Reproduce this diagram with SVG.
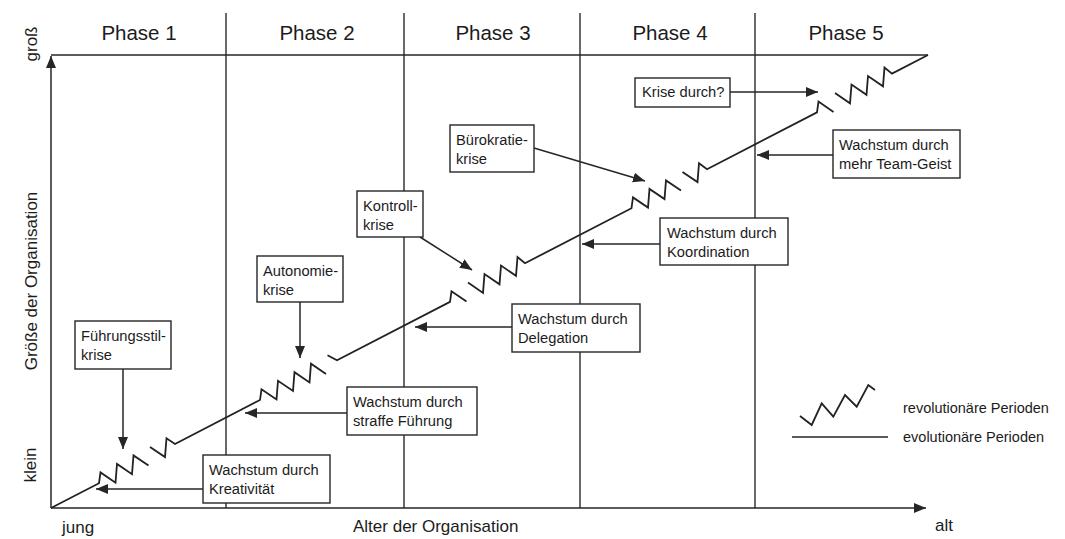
<svg xmlns="http://www.w3.org/2000/svg" width="1065" height="539" viewBox="0 0 1065 539">
<style>
.ln{stroke:#262626;fill:none;stroke-width:1.5}
.div{stroke:#2a2a2a;fill:none;stroke-width:1.4}
.gr{stroke:#222;fill:none;stroke-width:1.8;stroke-linejoin:miter}
.box{fill:#fff;stroke:#262626;stroke-width:1.4}
.t{font-family:"Liberation Sans",Arial,sans-serif;font-size:14.7px;fill:#1c1c1c}
.ph{font-family:"Liberation Sans",Arial,sans-serif;font-size:20.5px;fill:#1c1c1c;text-anchor:middle}
.ax{font-family:"Liberation Sans",Arial,sans-serif;font-size:17px;fill:#1c1c1c}
.lg{font-family:"Liberation Sans",Arial,sans-serif;font-size:14.5px;fill:#1c1c1c}
.ar{stroke:#262626;stroke-width:1.5;fill:none;marker-end:url(#ah)}
</style>
<defs>
<marker id="ah" markerUnits="userSpaceOnUse" markerWidth="13" markerHeight="11" refX="12" refY="5" orient="auto">
<path d="M0,0 L12,5 L0,10 z" fill="#262626"/>
</marker>
</defs>
<rect width="1065" height="539" fill="#fff"/>

<g id="frame">
<line class="div" x1="226" y1="13" x2="226" y2="508"/>
<line class="div" x1="404" y1="13" x2="404" y2="508"/>
<line class="div" x1="580" y1="13" x2="580" y2="508"/>
<line class="div" x1="755" y1="13" x2="755" y2="508"/>
<line class="ln" x1="51" y1="55" x2="928" y2="55"/>
<line class="ln" x1="51" y1="508" x2="51" y2="56" marker-end="url(#ah)"/>
<line class="ln" x1="51" y1="508" x2="926" y2="508" marker-end="url(#ah)"/>
</g>

<g id="phases">
<text class="ph" x="139" y="40">Phase 1</text>
<text class="ph" x="317" y="40">Phase 2</text>
<text class="ph" x="493" y="40">Phase 3</text>
<text class="ph" x="670" y="40">Phase 4</text>
<text class="ph" x="846" y="40">Phase 5</text>
</g>

<g id="axis-labels">
<text class="ax" text-anchor="middle" transform="translate(37,44) rotate(-90)">groß</text>
<text class="ax" text-anchor="middle" transform="translate(37,281) rotate(-90)">Größe der Organisation</text>
<text class="ax" text-anchor="middle" transform="translate(36,465) rotate(-90)">klein</text>
<text class="ax" x="62" y="533">jung</text>
<text class="ax" x="353" y="532">Alter der Organisation</text>
<text class="ax" x="935" y="531">alt</text>
</g>

<g id="growth-curve">
<path class="gr" d="M51,508 L99,483.2 L100.5,472.4 L115.5,482.7 L117,463.9 L132,474.2 L133.5,455.4 L148.5,465.6"/>
<path class="gr" d="M150,446.9 L165,457.1 L166.5,438.3 L175,444 L260,400 L261.5,389.3 L276.5,399.5 L278,380.8 L293,391 L294.5,372.2 L309.5,382.5 L311,363.7 L326,374"/>
<path class="gr" d="M327.5,355.2 L337,360.3 L450,301.9 L451.5,291.2 L466.5,301.4"/>
<path class="gr" d="M468,282.6 L483,292.9 L484.5,274.1 L499.5,284.3 L501,265.6 L516,275.8 L517.5,257.1 L525,263.2 L631.5,208.2 L633,197.4 L648,207.6 L649.5,188.9 L664.5,199.1 L666,180.4 L681,190.6"/>
<path class="gr" d="M682.5,171.9 L697.5,182.1 L699,163.3 L707,169.2 L817,112.4 L818.5,101.6 L833.5,111.9"/>
<path class="gr" d="M835,93.1 L850,103.3 L851.5,84.6 L866.5,94.8 L868,76 L883,86.3 L884.5,67.5 L892,73.6 L928,55"/>
</g>

<g id="connectors">
<line class="ar" x1="123" y1="369" x2="123" y2="449"/>
<line class="ar" x1="300" y1="302" x2="300" y2="358"/>
<line class="ar" x1="420" y1="237" x2="472" y2="270"/>
<line class="ar" x1="534" y1="148" x2="645" y2="181"/>
<line class="ar" x1="730" y1="92" x2="818" y2="92"/>
<line class="ar" x1="203" y1="489" x2="96" y2="489"/>
<line class="ar" x1="347" y1="413" x2="245" y2="413"/>
<line class="ar" x1="512" y1="327" x2="415" y2="327"/>
<line class="ar" x1="660" y1="244" x2="582" y2="244"/>
<line class="ar" x1="833" y1="155" x2="757" y2="155"/>
</g>

<g id="n-fuehrungsstil"><rect class="box" x="75" y="321" width="96" height="48"/><text class="t" x="81" y="341">Führungsstil-</text><text class="t" x="81" y="360">krise</text></g>
<g id="n-autonomie"><rect class="box" x="257" y="256" width="86" height="46"/><text class="t" x="263" y="276">Autonomie-</text><text class="t" x="263" y="295">krise</text></g>
<g id="n-kontroll"><rect class="box" x="357" y="191" width="66" height="46"/><text class="t" x="363" y="211">Kontroll-</text><text class="t" x="363" y="230">krise</text></g>
<g id="n-buerokratie"><rect class="box" x="450" y="125" width="84" height="47"/><text class="t" x="456" y="145">Bürokratie-</text><text class="t" x="456" y="164">krise</text></g>
<g id="n-krise-durch"><rect class="box" x="635" y="78" width="95" height="29"/><text class="t" x="642" y="97">Krise durch?</text></g>
<g id="n-kreativitaet"><rect class="box" x="203" y="455" width="127" height="48"/><text class="t" x="209" y="475">Wachstum durch</text><text class="t" x="209" y="494">Kreativität</text></g>
<g id="n-straffe"><rect class="box" x="347" y="387" width="130" height="48"/><text class="t" x="353" y="407">Wachstum durch</text><text class="t" x="353" y="426">straffe Führung</text></g>
<g id="n-delegation"><rect class="box" x="512" y="304" width="128" height="48"/><text class="t" x="518" y="324">Wachstum durch</text><text class="t" x="518" y="343">Delegation</text></g>
<g id="n-koordination"><rect class="box" x="660" y="218" width="128" height="47"/><text class="t" x="667" y="238">Wachstum durch</text><text class="t" x="667" y="257">Koordination</text></g>
<g id="n-teamgeist"><rect class="box" x="833" y="130" width="127" height="48"/><text class="t" x="839" y="150">Wachstum durch</text><text class="t" x="839" y="169">mehr Team-Geist</text></g>

<g id="legend">
<path class="gr" d="M800,416 L811.7,425 L821.7,403.3 L833.3,416.7 L845,395 L856.7,406.7 L868.3,385 L875,390"/>
<line class="ln" x1="792" y1="437" x2="888" y2="437"/>
<text class="lg" x="903" y="413">revolutionäre Perioden</text>
<text class="lg" x="903" y="442">evolutionäre Perioden</text>
</g>
</svg>
